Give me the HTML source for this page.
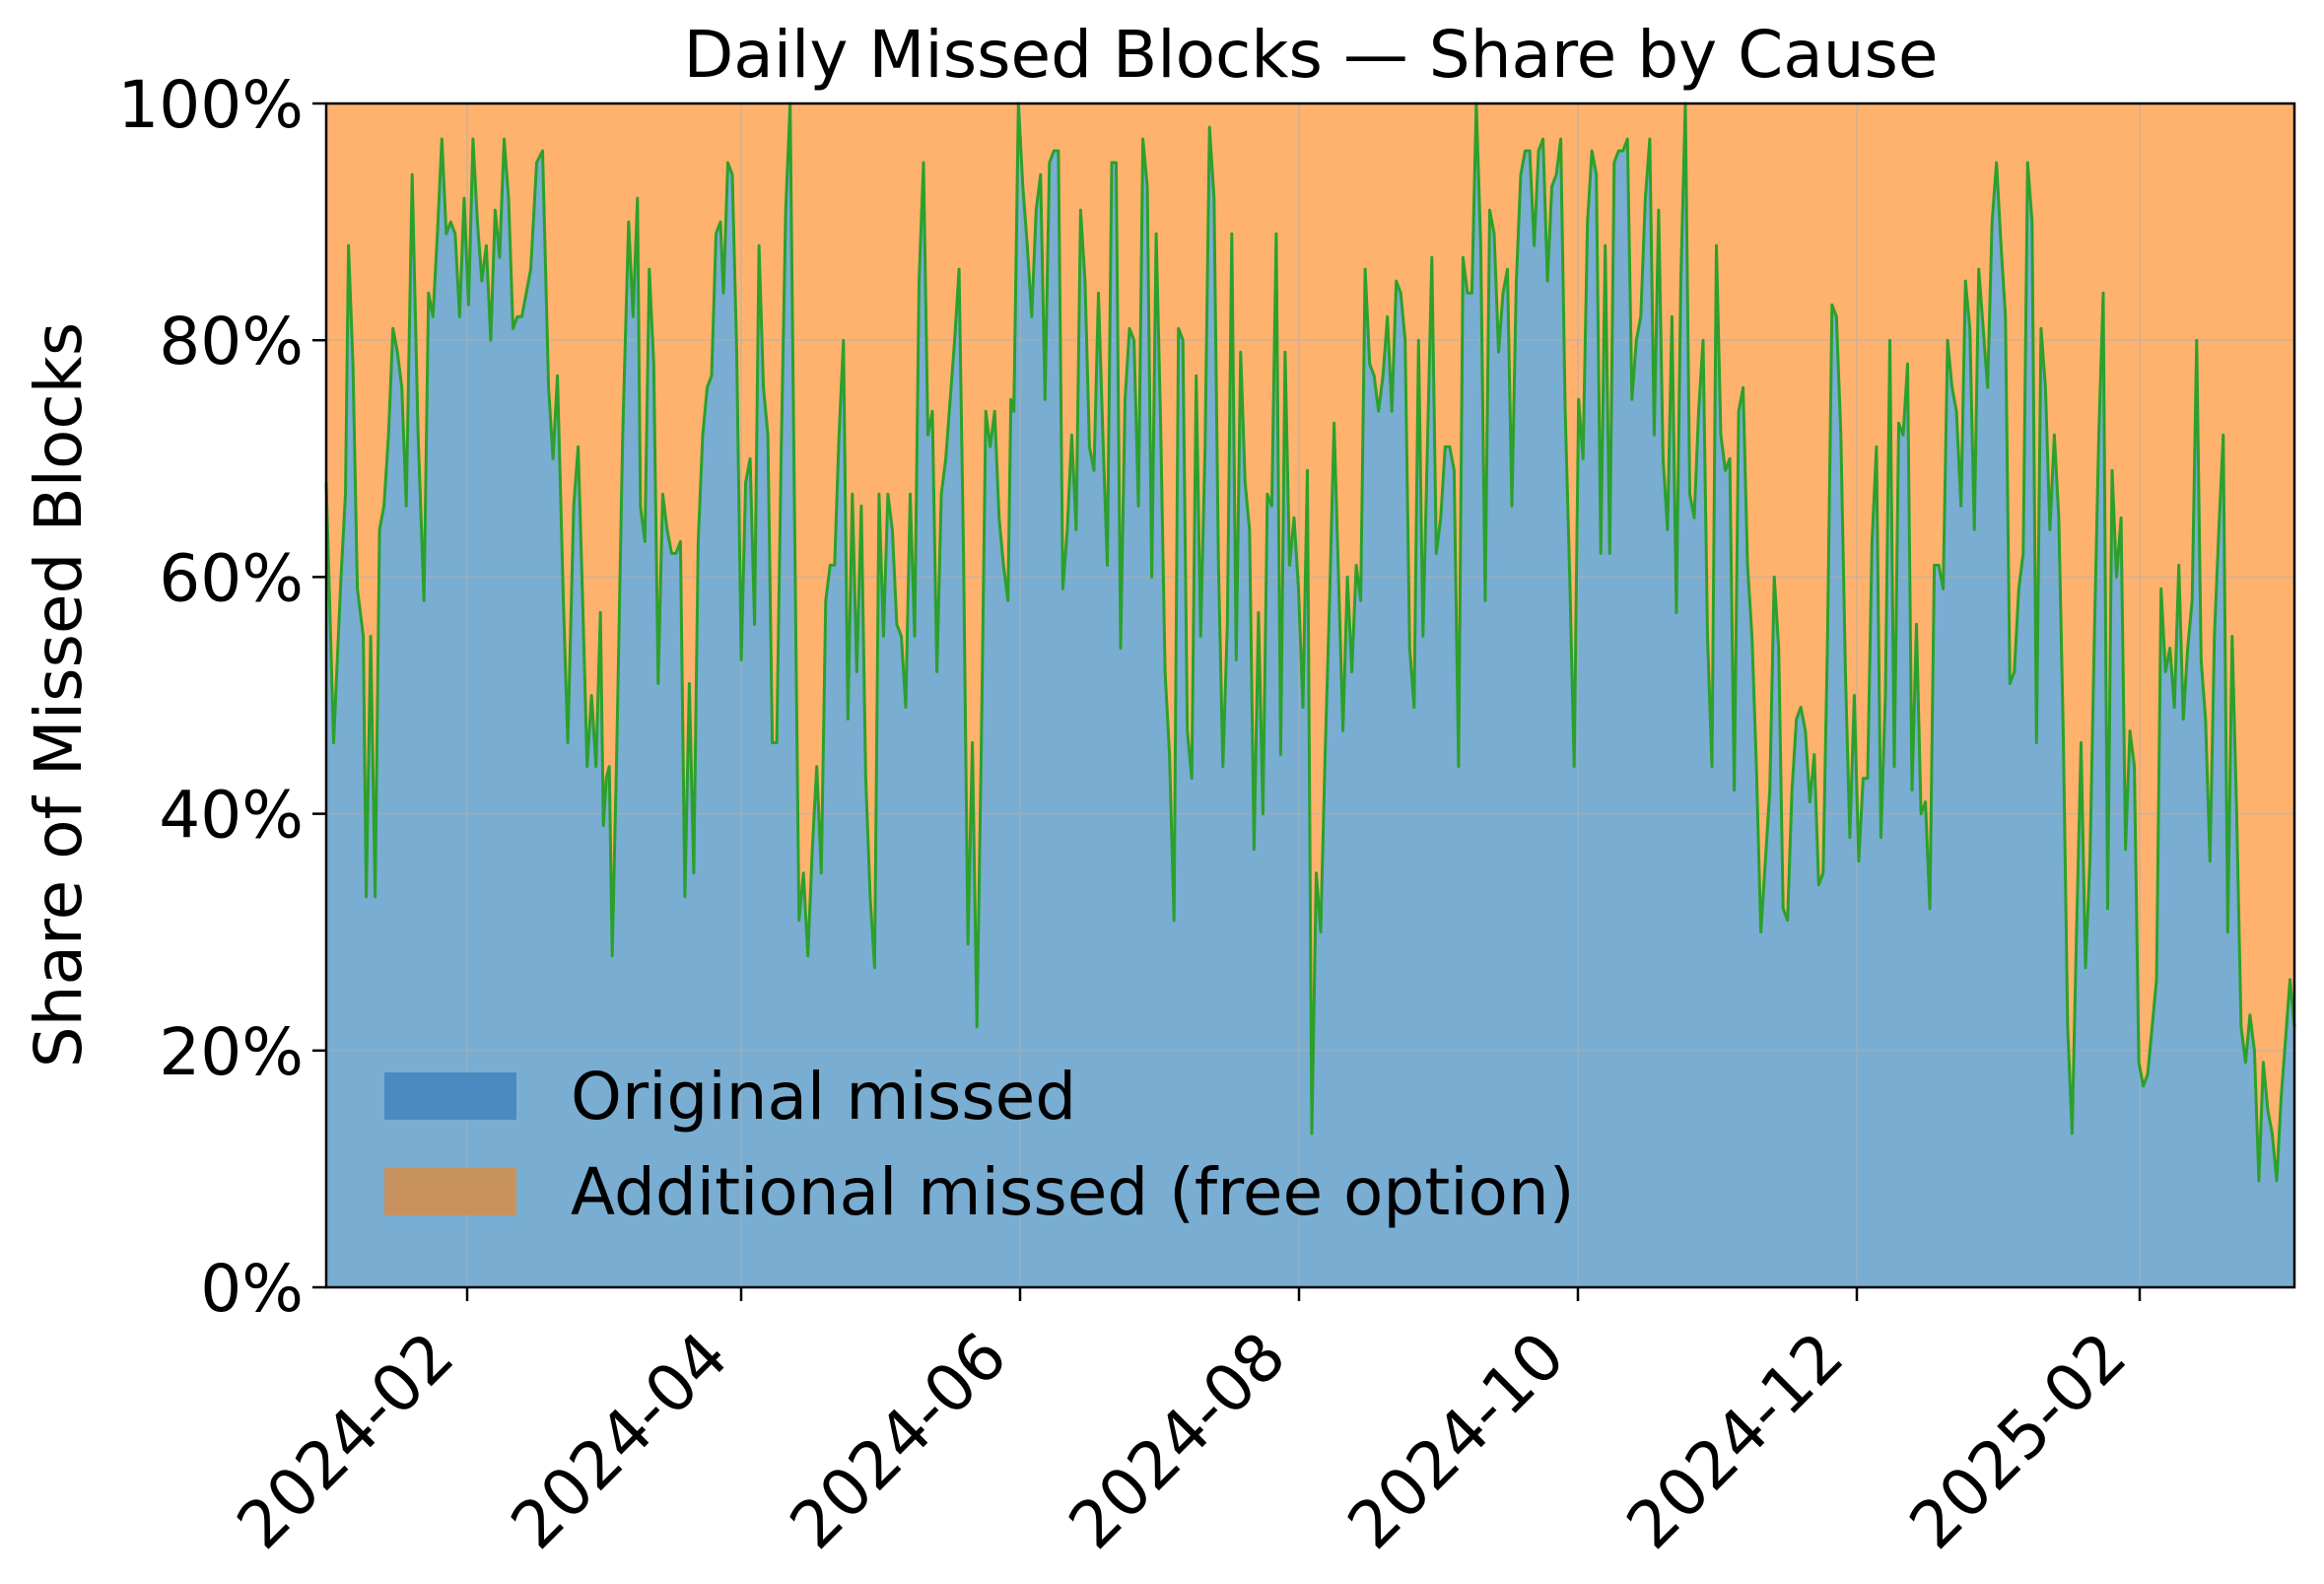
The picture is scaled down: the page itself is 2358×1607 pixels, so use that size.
<!DOCTYPE html>
<html><head><meta charset="utf-8"><style>
html,body{margin:0;padding:0;background:#fff;}
svg{display:block;font-family:"DejaVu Sans","Liberation Sans",sans-serif;}
</style></head><body>
<svg id="s" width="2358" height="1607" viewBox="0 0 2358 1607" xmlns="http://www.w3.org/2000/svg">
<rect x="0" y="0" width="2358" height="1607" fill="#fff"/>
<rect x="331" y="105" width="1997" height="1201" fill="#ffb26e"/>
<path id="blue" fill="#79add2" d=""/>
<g id="grid" stroke="#b0b0b0" stroke-opacity="0.45" stroke-width="2"></g>
<path id="line" fill="none" stroke="#2ca02c" stroke-width="3" stroke-linejoin="round" d=""/>
<rect x="331" y="105" width="1997" height="1201" fill="none" stroke="#000" stroke-width="2.5"/>
<g id="ticks" stroke="#000" stroke-width="2.5"></g>
<g id="labels" font-size="66" fill="#000"></g>
<text x="1330" y="78" font-size="66" text-anchor="middle">Daily Missed Blocks — Share by Cause</text>
<text transform="translate(82,705) rotate(-90)" font-size="66" text-anchor="middle">Share of Missed Blocks</text>
<rect x="390" y="1088" width="134" height="48" fill="#4a8ac0"/>
<rect x="390" y="1185" width="134" height="48" fill="#c8925f"/>
<text x="579" y="1135" font-size="66">Original missed</text>
<text x="579" y="1232" font-size="66">Additional missed (free option)</text>
</svg>
<script>
var d=[220,68,225,46,230,60,233,67,235,88,238,78,241,59,245,55,247,33,250,55,253,33,256,64,259,66,262,72,265,81,268,79,271,76,274,66,278,94,282,72,286,58,289,84,292,82,295,89,298,97,301,89,304,90,307,89,310,82,313,92,316,83,319,97,322,90,325,85,328,88,331,80,334,91,337,87,340,97,343,92,346,81,349,82,352,82,355,84,358,86,362,95,366,96,370,76,373,70,376,77,380,58,383,46,387,66,390,71,393,58,396,44,399,50,402,44,405,57,407,39,409,43,411,44,413,28,416,45,420,72,424,90,427,82,430,92,432,66,435,63,438,86,441,78,444,51,447,67,450,64,453,62,456,62,459,63,462,33,465,51,468,35,471,63,474,72,477,76,480,77,483,89,486,90,488,84,491,95,494,94,497,79,500,53,503,68,506,70,509,56,512,88,515,76,518,72,521,46,524,46,527,71,530,91,533,100,536,65,539,31,542,35,545,28,548,37,551,44,554,35,557,58,560,61,563,61,566,72,569,80,572,48,575,67,578,52,581,66,584,43,587,33,590,27,593,67,596,55,599,67,602,64,605,56,608,55,611,49,614,67,617,55,620,85,623,95,626,72,629,74,632,52,635,67,638,70,641,75,644,80,647,86,650,62,653,29,656,46,659,22,662,46,665,74,668,71,671,74,674,65,677,61,680,58,682,75,684,74,687,100,690,93,693,88,696,82,699,91,702,94,705,75,708,95,711,96,714,96,717,59,720,64,723,72,726,64,729,91,732,85,735,71,738,69,741,84,744,72,747,61,750,95,753,95,756,54,759,75,762,81,765,80,768,66,771,97,774,93,777,60,780,89,783,73,786,52,789,45,792,31,795,81,798,80,801,47,804,43,807,77,810,55,813,71,816,98,819,92,822,61,825,44,828,56,831,89,834,53,837,79,840,68,843,64,846,37,849,57,852,40,855,67,858,66,861,89,864,45,867,79,870,61,873,65,876,59,879,49,882,69,885,13,888,35,891,30,894,45,897,58,900,73,903,60,906,47,909,60,912,52,915,61,918,58,921,86,924,78,927,77,930,74,933,77,936,82,939,74,942,85,945,84,948,80,951,54,954,49,957,80,960,55,963,71,966,87,969,62,972,65,975,71,978,71,981,69,984,44,987,87,990,84,993,84,996,100,999,88,1002,58,1005,91,1008,89,1011,79,1014,84,1017,86,1020,66,1023,85,1026,94,1029,96,1032,96,1035,88,1038,96,1041,97,1044,85,1047,93,1050,94,1053,97,1056,74,1059,60,1062,44,1065,75,1068,70,1071,90,1074,96,1077,94,1080,62,1083,88,1086,62,1089,95,1092,96,1095,96,1098,97,1101,75,1104,80,1107,82,1110,92,1113,97,1116,72,1119,91,1122,70,1125,64,1128,82,1131,57,1134,85,1137,100,1140,67,1143,65,1146,74,1149,80,1152,55,1155,44,1158,88,1161,72,1164,69,1167,70,1170,42,1173,74,1176,76,1179,61,1182,55,1185,44,1188,30,1191,36,1194,42,1197,60,1200,54,1203,32,1206,31,1209,42,1212,48,1215,49,1218,47,1221,41,1224,45,1227,34,1230,35,1233,55,1236,83,1239,82,1242,72,1245,52,1248,38,1251,50,1254,36,1257,43,1260,43,1263,63,1266,71,1269,38,1272,50,1275,80,1278,44,1281,73,1284,72,1287,78,1290,42,1293,56,1296,40,1299,41,1302,32,1305,61,1308,61,1311,59,1314,80,1317,76,1320,74,1323,66,1326,85,1329,81,1332,64,1335,86,1338,81,1341,76,1344,90,1347,95,1350,88,1353,82,1356,51,1359,52,1362,59,1365,62,1368,95,1371,90,1374,46,1377,81,1380,76,1383,64,1386,72,1389,65,1392,47,1395,22,1398,13,1401,30,1404,46,1407,27,1410,36,1413,55,1416,72,1419,84,1422,32,1425,69,1428,60,1431,65,1434,37,1437,47,1440,44,1443,19,1446,17,1449,18,1452,22,1455,26,1458,59,1461,52,1464,54,1467,49,1470,61,1473,48,1476,54,1479,58,1482,80,1485,53,1488,48,1491,36,1494,55,1497,64,1500,72,1503,30,1506,55,1509,40,1512,22,1515,19,1518,23,1521,20,1524,9,1527,19,1530,15,1533,13,1536,9,1539,16,1542,21,1545,26,1548,22];
var pts=[];
for(var i=0;i<d.length;i+=2){var X=331+(d[i]-220)*(1997/1328);var Y=1306-d[i+1]*12.01;pts.push(X.toFixed(1)+","+Y.toFixed(1));}
document.getElementById('line').setAttribute('d','M'+pts.join('L'));
document.getElementById('blue').setAttribute('d','M331,1306L'+pts.join('L')+'L2328,1306Z');
var NS='http://www.w3.org/2000/svg';
function el(p,t,a,txt){var e=document.createElementNS(NS,t);for(var k in a)e.setAttribute(k,a[k]);if(txt)e.textContent=txt;p.appendChild(e);return e;}
var g=document.getElementById('grid'),tk=document.getElementById('ticks'),lb=document.getElementById('labels');
var xt=[[474,'2024-02'],[752,'2024-04'],[1035,'2024-06'],[1318,'2024-08'],[1601,'2024-10'],[1884,'2024-12'],[2171,'2025-02']];
xt.forEach(function(t){el(g,'line',{x1:t[0],x2:t[0],y1:105,y2:1306});el(tk,'line',{x1:t[0],x2:t[0],y1:1306,y2:1320});
el(lb,'text',{'text-anchor':'end',transform:'translate('+(t[0]-10)+',1380) rotate(-45)'},t[1]);});
for(var v=0;v<=100;v+=20){var y=1306-v*12.01;if(v>0&&v<100)el(g,'line',{x1:331,x2:2328,y1:y,y2:y});
el(tk,'line',{x1:317,x2:331,y1:y,y2:y});el(lb,'text',{'text-anchor':'end',x:308,y:y+24},v+'%');}
</script>
</body></html>
